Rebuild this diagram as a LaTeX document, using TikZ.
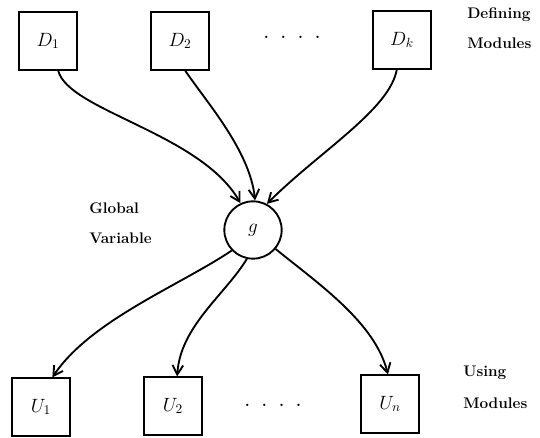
\documentclass[tikz,border=0pt]{standalone}
\usetikzlibrary{arrows.meta}
\begin{document}
\begin{tikzpicture}[x=0.75pt,y=-0.75pt,
  lw/.style={line width=1.4pt},
  modbox/.style={draw,lw,minimum width=44pt,minimum height=43pt,inner sep=0pt,font=\fontsize{14}{16}\selectfont},
  gvar/.style={draw,lw,circle,minimum size=43pt,inner sep=0pt,font=\fontsize{14}{16}\selectfont},
  lbl/.style={anchor=west,inner sep=0pt,font=\fontsize{11.5}{14}\selectfont\bfseries},
  dots/.style={inner sep=0pt,font=\fontsize{12}{14}\selectfont\bfseries},
  link/.style={lw,-{Straight Barb[length=7pt,width=8pt,line width=1.4pt]}}]
\useasboundingbox (0,0) rectangle (540,438);
% defining modules
\node[modbox] (D1) at (48,41) {$D_1$};
\node[modbox] (D2) at (180,41) {$D_2$};
\node[modbox] (Dk) at (402,40) {$D_k$};
\node[dots] (dtop) at (292,37) {.\hspace{9pt}.\hspace{9pt}.\hspace{9pt}.};
\node[lbl] (def1) at (467,15) {Defining};
\node[lbl] (def2) at (467,43) {Modules};
% global variable
\node[gvar] (g) at (253,230) {$g$};
\node[lbl] (gl1) at (89,208) {Global};
\node[lbl] (gl2) at (89,238) {Variable};
% using modules
\node[modbox] (U1) at (41,407) {$U_1$};
\node[modbox] (U2) at (173,406) {$U_2$};
\node[modbox] (Un) at (390,404) {$U_n$};
\node[dots] (dbot) at (273,405) {.\hspace{9pt}.\hspace{9pt}.\hspace{9pt}.};
\node[lbl] (us1) at (463,373) {Using};
\node[lbl] (us2) at (463,403) {Modules};
% connectors
\draw[link] (D1.-71) .. controls +(10,40) and +(-40,-70) .. (g.115);
\draw[link] (D2.-80) .. controls +(20,30) and +(-5,-50) .. (g.86);
\draw[link] (Dk.-100) .. controls +(-7,40) and +(52,-52) .. (g.62);
\draw[link] (g.-136) .. controls +(-52,35) and +(38,-57) .. (U1.69);
\draw[link] (g.-102) .. controls +(-22,36) and +(3,-50) .. (U2.82);
\draw[link] (g.-40) .. controls +(43,35) and +(-13,-52) .. (Un.94);
\end{tikzpicture}
\end{document}
